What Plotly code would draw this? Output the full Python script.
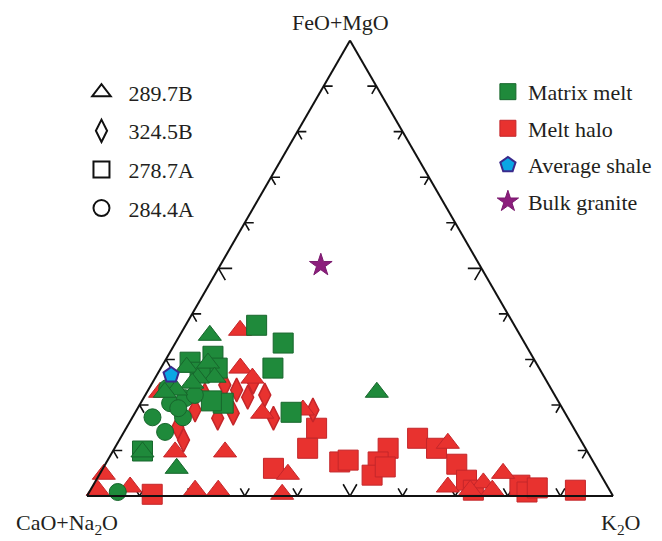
import plotly.graph_objects as go

# ---------------- data (FeO+MgO, CaO+Na2O, K2O), wt% normalised to 100 ----------------
# Matrix melt (green)
mm_sq_fm = [37.5, 33.6, 28.1, 30.7, 28.1, 20.4, 20.9, 18.4, 9.9, 29.4, 27.2]
mm_sq_cn = [49.0, 45.9, 50.6, 60.7, 61.2, 63.9, 65.9, 52.0, 84.5, 65.7, 64.9]
mm_sq_k = [13.5, 20.5, 21.3, 8.6, 10.7, 15.7, 13.2, 29.6, 5.6, 4.9, 7.9]

mm_tri_fm = [35.3, 28.3, 29.2, 26.1, 25.9, 24.8, 23.3, 9.7, 6.1, 22.8, 22.8]
mm_tri_cn = [59.0, 66.9, 62.4, 62.7, 66.0, 67.6, 71.4, 84.6, 79.9, 33.5, 73.8]
mm_tri_k = [5.7, 4.8, 8.4, 11.2, 8.1, 7.6, 5.3, 5.7, 14.0, 43.7, 3.4]

mm_cir_fm = [20.4, 21.5, 17.3, 14.1, 17.3, 22.2, 0.9, 23.7, 19.3]
mm_cir_cn = [74.0, 70.6, 78.9, 78.1, 73.1, 68.4, 93.7, 72.9, 73.0]
mm_cir_k = [5.6, 7.9, 3.8, 7.8, 9.6, 9.4, 5.4, 3.4, 7.7]

# Melt halo (red)
mh_tri_fm = [36.4, 4.8, 1.3, 2.0, 1.3, 1.3, 0.4, 4.8, 9.7, 9.7, 18.2, 18.9, 11.6, 2.0, 2.9, 1.3, 5.0, 1.3, 22.8, 28.1, 25.9]
mh_tri_cn = [52.7, 94.4, 97.3, 90.8, 78.8, 74.4, 62.7, 59.4, 68.9, 78.4, 57.6, 49.5, 25.6, 30.4, 23.2, 22.3, 18.4, 26.5, 74.7, 56.8, 55.6]
mh_tri_k = [10.9, 0.8, 1.4, 7.2, 19.9, 24.3, 36.9, 35.8, 21.4, 11.9, 24.2, 31.6, 62.8, 67.6, 73.9, 76.4, 76.6, 72.2, 2.5, 15.1, 18.5]

mh_dia_fm = [25.0, 21.7, 23.3, 17.1, 17.1, 12.3, 15.1, 18.9, 18.2, 22.2, 24.4, 22.2, 18.9]
mh_dia_cn = [55.9, 58.6, 59.9, 56.0, 66.6, 75.5, 75.2, 47.6, 63.1, 66.5, 61.6, 55.1, 70.0]
mh_dia_k = [19.1, 19.7, 16.8, 26.9, 16.3, 12.2, 9.7, 33.5, 18.7, 11.3, 14.0, 22.7, 11.1]

mh_sq_fm = [0.4, 6.1, 14.9, 10.5, 7.5, 7.9, 10.5, 7.5, 4.6, 6.4, 12.7, 10.5, 7.0, 3.5, 1.3, 2.4, 0.9, 1.8, 1.3]
mh_sq_cn = [87.4, 61.5, 48.9, 52.8, 48.2, 46.4, 37.5, 40.9, 43.5, 40.1, 30.8, 28.3, 26.2, 26.1, 25.9, 16.5, 15.9, 13.5, 6.5]
mh_sq_k = [12.2, 32.4, 36.2, 36.7, 44.3, 45.7, 52.0, 51.6, 51.9, 53.5, 56.5, 61.2, 66.8, 70.4, 72.8, 81.1, 83.2, 84.7, 92.2]

# Reference compositions
shale_fm, shale_cn, shale_k = [26.6], [70.7], [2.7]
granite_fm, granite_cn, granite_k = [50.7], [30.2], [19.1]

# Tick positions along each edge (percent)
tick_vals = [10, 20, 30, 40, 50, 60, 70, 80, 90]

sample_names = ["289.7B", "324.5B", "278.7A", "284.4A"]
group_names = ["Matrix melt", "Melt halo", "Average shale", "Bulk granite"]

# ---------------- styles ----------------
GREEN, GREEN_EDGE = "#1f8a3b", "#17662c"
RED, RED_EDGE = "#e8322f", "#c4262a"
SHALE, SHALE_EDGE = "#0aa6e4", "#3a2a8c"
GRANITE, GRANITE_EDGE = "#8c1d7c", "#7a1a6e"
FONT = "Liberation Serif"
TXT = "#231f20"
FS = 22

fig = go.Figure()


def add_points(fm, cn, k, symbol, size, color, edge, lw=1.0):
    fig.add_trace(go.Scatterternary(
        a=fm, b=cn, c=k, mode="markers", cliponaxis=False, showlegend=False,
        hoverinfo="skip",
        marker=dict(symbol=symbol, size=size, color=color,
                    line=dict(color=edge, width=lw))))


# tick chevrons (stubs of the ternary grid lines at each tick value)
ta, tb, tc = [], [], []
for t in tick_vals:
    d = 2.6 if t == 50 else 1.7
    # left edge (K2O = 0)
    ta += [t, t, t - d, None]
    tb += [100 - t - d, 100 - t, 100 - t, None]
    tc += [d, 0, d, None]
    # bottom edge (FeO+MgO = 0)
    ta += [d, 0, d, None]
    tb += [100 - t - d, 100 - t, 100 - t, None]
    tc += [t, t, t - d, None]
    # right edge (CaO+Na2O = 0)
    ta += [t, t, t - d, None]
    tb += [d, 0, d, None]
    tc += [100 - t - d, 100 - t, 100 - t, None]
fig.add_trace(go.Scatterternary(a=ta, b=tb, c=tc, mode="lines", showlegend=False,
                                hoverinfo="skip", cliponaxis=False,
                                line=dict(color="#111111", width=1.6)))

# Melt halo first, matrix melt on top
add_points(mh_sq_fm, mh_sq_cn, mh_sq_k, "square", 20, RED, RED_EDGE)
add_points(mh_dia_fm, mh_dia_cn, mh_dia_k, "diamond-tall", 17, RED, RED_EDGE, 1.5)
add_points(mh_tri_fm, mh_tri_cn, mh_tri_k, "triangle-up", 20, RED, RED_EDGE)
add_points(mm_sq_fm, mm_sq_cn, mm_sq_k, "square", 20, GREEN, GREEN_EDGE)
add_points(mm_cir_fm, mm_cir_cn, mm_cir_k, "circle", 17, GREEN, GREEN_EDGE)
add_points(mm_tri_fm, mm_tri_cn, mm_tri_k, "triangle-up", 20, GREEN, GREEN_EDGE)
add_points(shale_fm, shale_cn, shale_k, "pentagon", 16, SHALE, SHALE_EDGE, 2)
add_points(granite_fm, granite_cn, granite_k, "star", 17, GRANITE, GRANITE_EDGE, 1)

# legend entries: colours
color_styles = [("square", GREEN, GREEN_EDGE, 1), ("square", RED, RED_EDGE, 1),
                ("pentagon", SHALE, SHALE_EDGE, 2), ("star", GRANITE, GRANITE_EDGE, 1)]
for name, (sym, col, edge, lw) in zip(group_names, color_styles):
    fig.add_trace(go.Scatterternary(
        a=[None], b=[None], c=[None], mode="markers", name=name, legend="legend",
        legendgroup=name, hoverinfo="skip",
        marker=dict(symbol=sym, size=16, color=col, line=dict(color=edge, width=lw))))

# legend entries: samples (shapes)
shape_styles = ["triangle-up-open", "diamond-tall-open", "square-open", "circle-open"]
for name, sym in zip(sample_names, shape_styles):
    fig.add_trace(go.Scatterternary(
        a=[None], b=[None], c=[None], mode="markers", name=name, legend="legend2",
        legendgroup=name, hoverinfo="skip",
        marker=dict(symbol=sym, size=16, color="#111111", line=dict(color="#111111", width=2))))

axis_style = dict(showgrid=False, showticklabels=False, ticks="", linecolor="#111111",
                  linewidth=2, title=dict(text=""))

legend_common = dict(font=dict(family=FONT, size=FS, color=TXT), bgcolor="rgba(0,0,0,0)",
                     xanchor="left", yanchor="top", traceorder="grouped",
                     itemclick=False, itemdoubleclick=False)

fig.update_layout(
    width=662, height=541, margin=dict(l=0, r=0, t=0, b=0),
    paper_bgcolor="white", plot_bgcolor="white",
    font=dict(family=FONT, size=FS, color=TXT),
    ternary=dict(sum=100, bgcolor="white",
                 domain=dict(x=[0.1314, 0.926], y=[0.080, 0.928]),
                 aaxis=axis_style, baxis=axis_style, caxis=axis_style),
    legend=dict(x=0.737, y=0.869, tracegroupgap=5, **legend_common),
    legend2=dict(x=0.1125, y=0.868, itemwidth=44, tracegroupgap=7, **legend_common),
    annotations=[
        dict(text="FeO+MgO", x=0.515, y=0.959, xref="paper", yref="paper",
             showarrow=False, xanchor="center", yanchor="middle",
             font=dict(family=FONT, size=FS, color=TXT)),
        dict(text="CaO+Na<sub>2</sub>O", x=0.101, y=0.031, xref="paper", yref="paper",
             showarrow=False, xanchor="center", yanchor="middle",
             font=dict(family=FONT, size=FS, color=TXT)),
        dict(text="K<sub>2</sub>O", x=0.937, y=0.031, xref="paper", yref="paper",
             showarrow=False, xanchor="center", yanchor="middle",
             font=dict(family=FONT, size=FS, color=TXT)),
    ],
)

fig.write_html("out.html", config={"displayModeBar": False},
               post_script="document.body.style.margin='0';")
